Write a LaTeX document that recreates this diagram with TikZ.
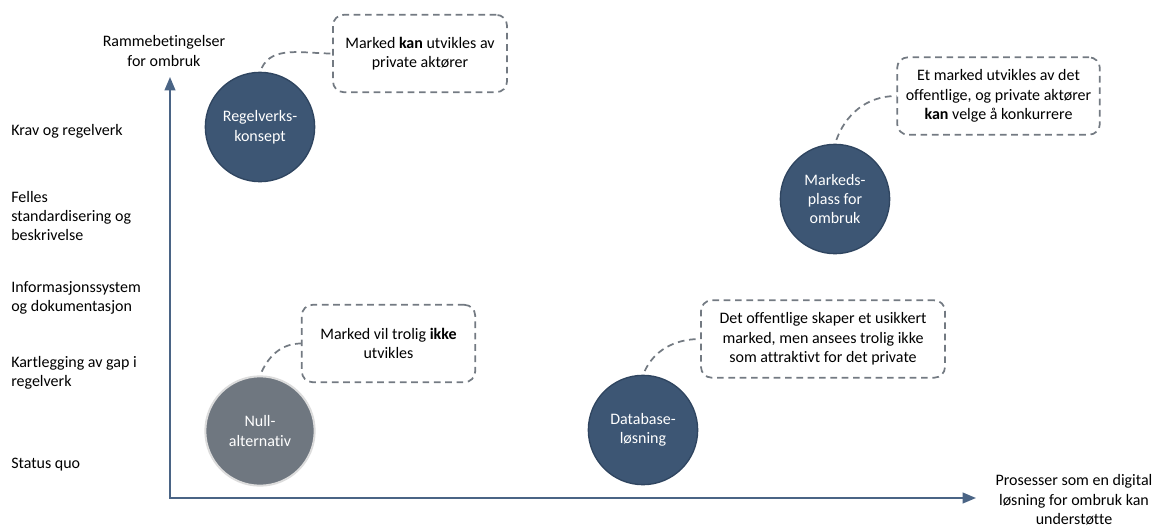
\documentclass[tikz,border=0pt]{standalone}
\usepackage{fontspec}
\setmainfont{Carlito}[Ligatures=NoCommon]
\usetikzlibrary{arrows.meta}
\definecolor{circblue}{HTML}{3D5674}
\definecolor{circedge}{HTML}{2F4560}
\definecolor{nullgray}{HTML}{6F7780}
\definecolor{nulledge}{HTML}{DCDCDC}
\definecolor{notegray}{HTML}{737A82}
\definecolor{axisblue}{HTML}{4A6485}

\begin{document}
\begin{tikzpicture}
        [x=0.75pt, y=-0.75pt,
         every node/.style={font=\fontsize{12}{14.6}\selectfont, inner sep=0, align=center},
         ball/.style={draw=circedge, fill=circblue, shape=circle, minimum size=82pt, text=white, line width=1pt},
         nullball/.style={ball, draw=nulledge, fill=nullgray, line width=1.5pt},
         note/.style={draw=notegray, dash pattern=on 5pt off 3.5pt, rounded corners=8pt, line width=1.3pt, minimum height=58pt},
         lead/.style={draw=notegray, dash pattern=on 5pt off 3.5pt, line width=1.3pt, shorten <=3pt},
         axis/.style={draw=axisblue, line width=1.5pt, {Triangle[length=10pt,width=8pt]}-{Triangle[length=10pt,width=8pt]}},
         level/.style={anchor=west, align=left}]

        \useasboundingbox (0, 0) rectangle (1157, 529);

        % axes
        \coordinate (ytop) at (170, 77);
        \coordinate (o) at (170, 498);
        \coordinate (xend) at (976, 498);
        \draw[axis] (ytop) -- (o) -- (xend);

        \node (ylab) at (164, 51) {Rammebetingelser\\for ombruk};
        \node (xlab) at (1074, 500) {Prosesser som en digital\\løsning for ombruk kan\\understøtte};

        \node[level] (l1) at (11, 131) {Krav og regelverk};
        \node[level] (l2) at (11, 216) {Felles\\standardisering og\\beskrivelse};
        \node[level] (l3) at (11, 298) {Informasjonssystem\\og dokumentasjon};
        \node[level] (l4) at (11, 373) {Kartlegging av gap i\\regelverk};
        \node[level] (l5) at (11, 465) {Status quo};

        % concepts
        \node[ball] (c1) at (260, 127) {Regelverks-\\konsept};
        \node[ball] (c2) at (835, 199) {Markeds-\\plass for\\ombruk};
        \node[nullball] (c3) at (260, 431) {Null-\\alternativ};
        \node[ball] (c4) at (643, 430) {Database-\\løsning};

        % notes
        \node[note, minimum width=130.5pt] (b1) at (420, 53.5) {Marked \textbf{kan} utvikles av\\private aktører};
        \node[note, minimum width=152pt] (b2) at (998.5, 96) {Et marked utvikles av det\\offentlige, og private aktører\\\textbf{kan} velge å konkurrere};
        \node[note, minimum width=130pt] (b3) at (388.5, 343.5) {Marked vil trolig \textbf{ikke}\\utvikles};
        \node[note, minimum width=183pt] (b4) at (823, 339) {Det offentlige skaper et usikkert\\marked, men ansees trolig ikke\\som attraktivt for det private};

        \draw[lead] (c1.north) to[out=65, in=180] (b1.west);
        \draw[lead] (c2.north) to[out=70, in=180] (b2.west);
        \draw[lead] (c3.north) to[out=65, in=180] (b3.west);
        \draw[lead] (c4.north) to[out=65, in=180] (b4.west);
      \end{tikzpicture}
\end{document}
